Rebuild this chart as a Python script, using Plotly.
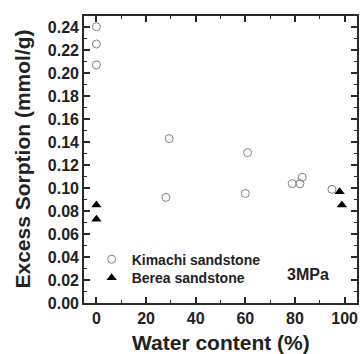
import plotly.graph_objects as go

# Data
kimachi_water = [0, 0, 0, 29.3, 28, 60.9, 60, 78.9, 82, 82.9, 94.9]
kimachi_sorption = [0.2406, 0.2256, 0.2074, 0.1432, 0.0920, 0.1310, 0.0954, 0.1040, 0.1040, 0.1095, 0.0990]

berea_water = [0, 0, 98, 98.9]
berea_sorption = [0.0853, 0.0729, 0.0968, 0.0853]

x_tickvals = [0, 20, 40, 60, 80, 100]
y_tickvals = [0.00, 0.02, 0.04, 0.06, 0.08, 0.10, 0.12, 0.14, 0.16, 0.18, 0.20, 0.22, 0.24]

FONT = "Liberation Sans, Arial, sans-serif"
TXT = "#222222"
LINE = "#2a2a2a"

fig = go.Figure()
fig.add_trace(go.Scatter(
    x=kimachi_water, y=kimachi_sorption, mode="markers", name="Kimachi sandstone",
    marker=dict(symbol="circle-open", size=8, color="#808080", line=dict(width=1, color="#808080")),
    legend="legend",
))
fig.add_trace(go.Scatter(
    x=berea_water, y=berea_sorption, mode="markers", name="Berea sandstone",
    marker=dict(symbol="triangle-up", size=9, color="black"),
    legend="legend2",
))

axis_common = dict(
    showline=True, linecolor=LINE, linewidth=1.6, mirror="ticks",
    ticks="inside", ticklen=6, tickwidth=1.5, tickcolor=LINE,
    showgrid=False, zeroline=False,
    tickfont=dict(family=FONT, size=16, color=TXT, weight="bold"),
)

fig.update_xaxes(
    range=[-5, 105], tickvals=x_tickvals, ticktext=[str(v) for v in x_tickvals],
    minor=dict(ticks="inside", dtick=10, tick0=0, ticklen=3, tickwidth=1.2, tickcolor=LINE),
    **axis_common,
)
fig.update_yaxes(
    range=[0, 0.25], tickvals=y_tickvals, ticktext=["%.2f" % v for v in y_tickvals],
    minor=dict(ticks="inside", dtick=0.01, tick0=0, ticklen=3, tickwidth=1.2, tickcolor=LINE),
    **axis_common,
)

title_font = dict(family=FONT, size=21, color=TXT, weight="bold")
fig.add_annotation(
    text="Water content (%)", xref="paper", yref="paper", x=0.5, y=0, yshift=-39,
    xanchor="center", yanchor="middle", showarrow=False, font=title_font,
)
fig.add_annotation(
    text="Excess Sorption (mmol/g)", xref="paper", yref="paper", x=0, y=0.5, xshift=-62,
    xanchor="center", yanchor="middle", textangle=-90, showarrow=False, font=title_font,
)

fig.add_annotation(
    text="3MPa", xref="paper", yref="paper", x=0.905, y=0.10, xanchor="right", yanchor="middle",
    showarrow=False, font=dict(family=FONT, size=16, color=TXT, weight="bold"),
)

legend_common = dict(
    xanchor="left", yanchor="middle",
    bgcolor="rgba(0,0,0,0)", borderwidth=0,
    font=dict(family=FONT, size=14, color=TXT, weight="bold"),
    itemwidth=30,
)

fig.update_layout(
    width=361, height=354,
    margin=dict(l=84, r=2, t=16, b=51),
    paper_bgcolor="white", plot_bgcolor="white",
    showlegend=True,
    legend=dict(x=0.028, y=0.151, **legend_common),
    legend2=dict(x=0.028, y=0.087, **legend_common),
)

fig.write_html(
    "out.html",
    config={"displayModeBar": False},
    post_script="document.body.style.margin='0';document.body.style.padding='0';document.body.style.overflow='hidden';document.documentElement.style.overflow='hidden';",
)
